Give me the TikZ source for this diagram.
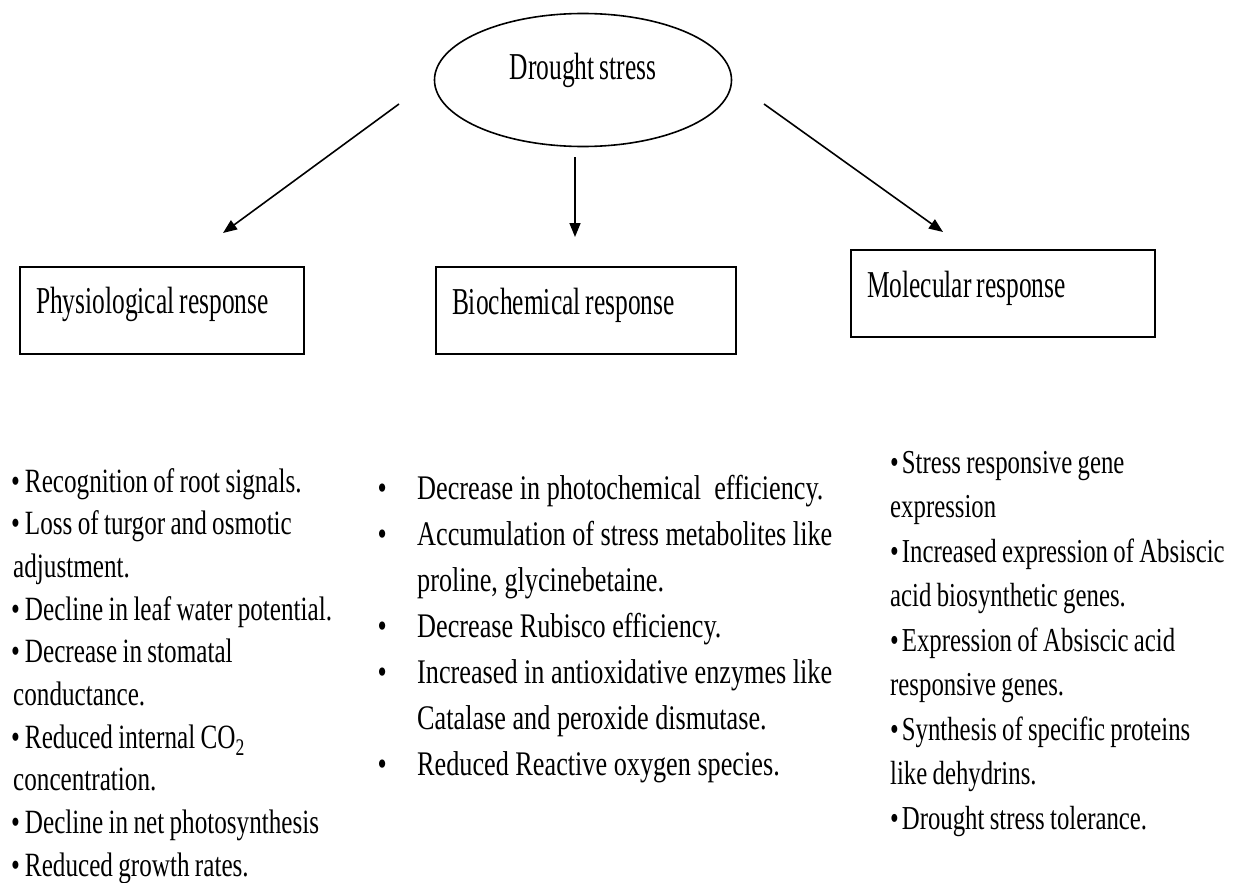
\documentclass[tikz,border=0pt]{standalone}
\usepackage{fontspec}
\setmainfont{Liberation Serif}
\newfontfamily\headfont{Liberation Serif}[FakeStretch=0.67,WordSpace=0.8]
\newfontfamily\listfont{Liberation Serif}[FakeStretch=0.74,WordSpace=0.85]
\newfontfamily\midfont{Liberation Serif}[FakeStretch=0.76,WordSpace=1]
\usetikzlibrary{shapes.geometric}
\usetikzlibrary{arrows.meta}

\begin{document}
\begin{tikzpicture}[x=1pt,y=-1pt,
    resp/.style={draw,rectangle,line width=2pt,inner xsep=16pt,inner ysep=0pt,align=flush left,
      text height=47pt,text depth=40pt,font=\headfont\fontsize{38}{42}\selectfont},
    items/.style={anchor=base west,inner sep=0pt,align=flush left,text width=600pt},
    arr/.style={line width=1.6pt,-{Triangle[length=14pt,width=11pt]}}]
      \useasboundingbox (0,0) rectangle (1239,883);
      \node[draw,ellipse,line width=1.6pt,minimum width=297pt,minimum height=133pt,inner sep=0pt,
        text height=20pt,text depth=22pt,font=\headfont\fontsize{38}{42}\selectfont] (drought) at (583,80) {Drought stress};
      \node[resp,text width=252pt] (phys) at (162,310) {Physiological response};
      \node[resp,text width=268pt] (bio) at (586,310.5) {Biochemical response};
      \node[resp,text width=272pt] (mol) at (1003,293.5) {Molecular response};
      \coordinate (physTail) at (399,104);
      \coordinate (physTip) at (223,233);
      \coordinate (bioTail) at (575,157);
      \coordinate (bioTip) at (575,237);
      \coordinate (molTail) at (764,104);
      \coordinate (molTip) at (943,232);
      \draw[arr] (physTail) -- (physTip);
      \draw[arr] (bioTail) -- (bioTip);
      \draw[arr] (molTail) -- (molTip);
      \node[items,font=\listfont\fontsize{34}{42.7}\selectfont] (physlist) at (11,492) {%
        \textbullet\kern5pt Recognition of root signals.\\
        \textbullet\kern5pt Loss of turgor and osmotic\\
        \hspace*{2pt}adjustment.\\
        \textbullet\kern5pt Decline in leaf water potential.\\
        \textbullet\kern5pt Decrease in stomatal\\
        \hspace*{2pt}conductance.\\
        \textbullet\kern5pt Reduced internal CO\textsubscript{2}\\
        \hspace*{2pt}concentration.\\
        \textbullet\kern5pt Decline in net photosynthesis\\
        \textbullet\kern5pt Reduced growth rates.};
      \node[items,font=\midfont\fontsize{34.5}{46}\selectfont] (biolist) at (377.5,499) {%
        \makebox[39.5pt][l]{\textbullet}Decrease in photochemical\ \ efficiency.\\
        \makebox[39.5pt][l]{\textbullet}Accumulation of stress metabolites like\\
        \hspace*{39.5pt}proline, glycinebetaine.\\
        \makebox[39.5pt][l]{\textbullet}Decrease Rubisco efficiency.\\
        \makebox[39.5pt][l]{\textbullet}Increased in antioxidative enzymes like\\
        \hspace*{39.5pt}Catalase and peroxide dismutase.\\
        \makebox[39.5pt][l]{\textbullet}Reduced Reactive oxygen species.};
      \node[items,font=\listfont\fontsize{33.5}{44.5}\selectfont] (mollist) at (890,473) {%
        \textbullet\kern3pt Stress responsive gene\\
        expression\\
        \textbullet\kern3pt Increased expression of Absiscic\\
        acid biosynthetic genes.\\
        \textbullet\kern3pt Expression of Absiscic acid\\
        responsive genes.\\
        \textbullet\kern3pt Synthesis of specific proteins\\
        like dehydrins.\\
        \textbullet\kern3pt Drought stress tolerance.};
    \end{tikzpicture}
\end{document}
